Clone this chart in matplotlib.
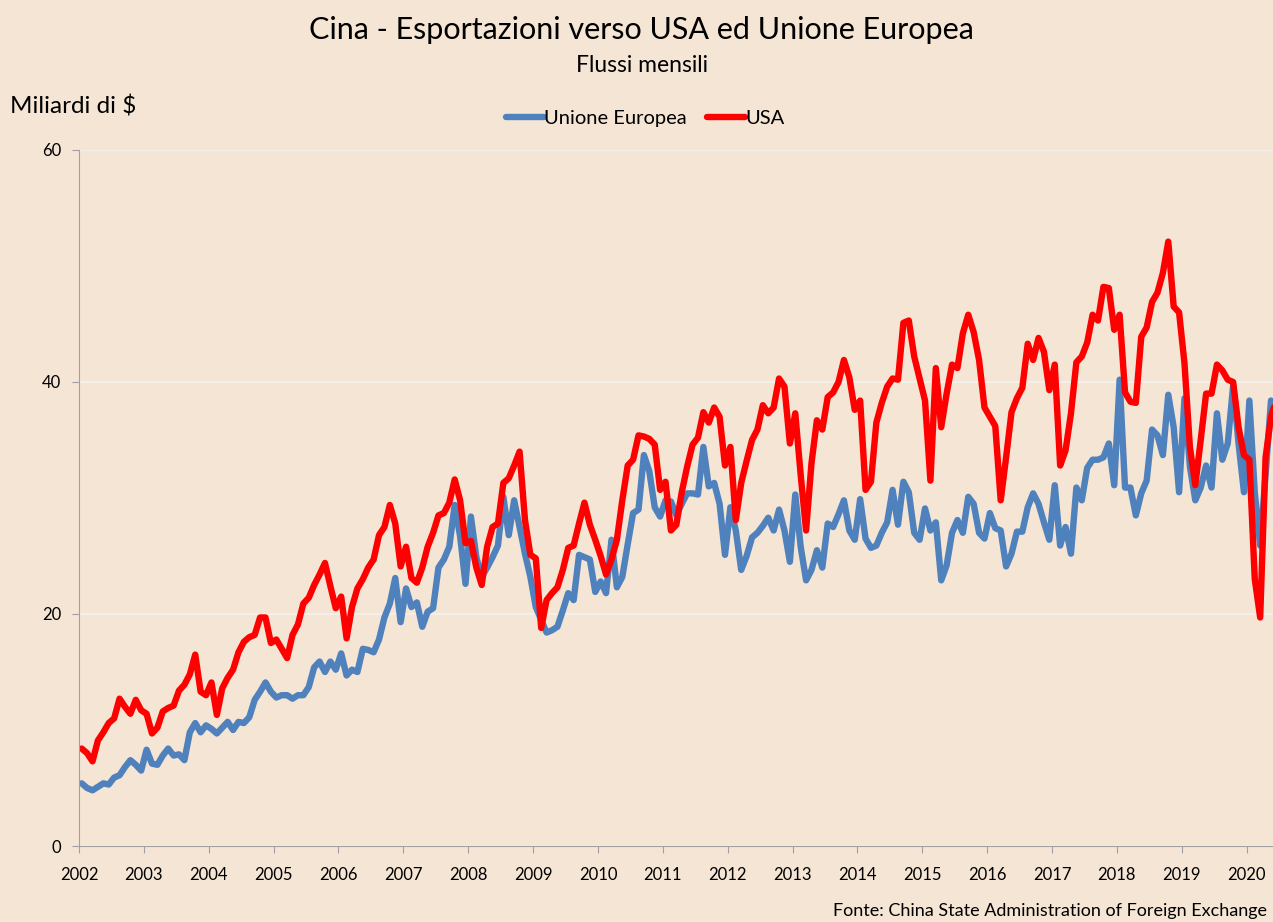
import numpy as np
import matplotlib
matplotlib.use('Agg')
import matplotlib.pyplot as plt

# monthly flows, Jan 2002 .. Jun 2020 (billions of $)
usa = [8.4, 8.0, 7.3, 9.1, 9.8, 10.6, 11.0, 12.7, 12.0, 11.4, 12.6, 11.7,
       11.4, 9.7, 10.2, 11.6, 11.9, 12.1, 13.4, 13.9, 14.8, 16.5, 13.3, 13.0,
       14.1, 11.3, 13.6, 14.5, 15.2, 16.7, 17.6, 18.0, 18.2, 19.7, 19.7, 17.5,
       17.8, 17.0, 16.2, 18.2, 19.1, 20.9, 21.4, 22.5, 23.4, 24.4, 22.4, 20.5,
       21.5, 17.9, 20.6, 22.2, 23.0, 24.0, 24.7, 26.8, 27.5, 29.4, 27.8, 24.1,
       25.8, 23.1, 22.7, 24.0, 25.8, 27.0, 28.5, 28.7, 29.6, 31.6, 29.8, 26.1,
       26.3, 24.0, 22.5, 25.8, 27.5, 27.8, 31.3, 31.7, 32.8, 34.0, 28.1, 25.1,
       24.8, 18.8, 21.2, 21.8, 22.3, 23.8, 25.7, 25.9, 27.8, 29.6, 27.7, 26.4,
       25.0, 23.4, 24.7, 26.4, 29.8, 32.8, 33.3, 35.4, 35.3, 35.1, 34.6, 30.7,
       31.4, 27.2, 27.7, 30.5, 32.7, 34.6, 35.2, 37.4, 36.5, 37.8, 37.0, 32.8,
       34.4, 28.1, 31.3, 33.2, 35.0, 35.9, 38.0, 37.3, 37.8, 40.3, 39.6, 34.7,
       37.3, 32.0, 27.2, 33.0, 36.7, 35.9, 38.7, 39.1, 40.0, 41.9, 40.4, 37.6,
       38.4, 30.7, 31.4, 36.5, 38.2, 39.6, 40.3, 40.2, 45.1, 45.3, 42.2, 40.3,
       38.4, 31.5, 41.2, 36.1, 39.0, 41.5, 41.2, 44.2, 45.8, 44.3, 41.9, 37.8,
       37.0, 36.2, 29.8, 33.5, 37.4, 38.6, 39.5, 43.3, 41.9, 43.8, 42.6, 39.3,
       41.5, 32.8, 34.1, 37.3, 41.7, 42.2, 43.4, 45.8, 45.3, 48.2, 48.1, 44.5,
       45.8, 39.1, 38.3, 38.2, 43.9, 44.7, 46.9, 47.7, 49.4, 52.1, 46.5, 46.0,
       41.6, 34.4, 31.1, 35.0, 39.0, 39.0, 41.5, 41.0, 40.2, 40.0, 36.1, 33.7,
       33.3, 23.0, 19.7, 33.5, 37.0, 38.5]

ue = [5.4, 5.0, 4.8, 5.1, 5.4, 5.3, 5.9, 6.1, 6.8, 7.4, 7.0, 6.5,
      8.3, 7.1, 7.0, 7.8, 8.4, 7.8, 7.9, 7.4, 9.8, 10.6, 9.8, 10.4,
      10.1, 9.7, 10.2, 10.7, 10.0, 10.7, 10.6, 11.1, 12.6, 13.3, 14.1, 13.3,
      12.8, 13.0, 13.0, 12.7, 13.0, 13.0, 13.7, 15.4, 15.9, 15.0, 15.9, 15.2,
      16.6, 14.7, 15.2, 15.0, 17.0, 16.9, 16.7, 17.8, 19.7, 20.9, 23.1, 19.3,
      22.2, 20.6, 21.0, 18.9, 20.2, 20.5, 24.0, 24.7, 25.8, 29.4, 26.7, 22.6,
      28.4, 24.9, 23.2, 24.0, 24.9, 25.9, 30.1, 26.8, 29.8, 27.5, 25.2, 23.2,
      20.6, 19.5, 18.4, 18.6, 18.9, 20.3, 21.8, 21.2, 25.1, 24.9, 24.7, 21.9,
      22.8, 21.8, 26.4, 22.3, 23.2, 26.0, 28.7, 29.0, 33.7, 32.3, 29.2, 28.4,
      29.8, 29.7, 28.5, 29.5, 30.4, 30.4, 30.3, 34.4, 31.0, 31.3, 29.5, 25.1,
      29.2, 27.2, 23.8, 25.0, 26.6, 27.0, 27.6, 28.3, 27.2, 29.0, 27.2, 24.5,
      30.3, 25.8, 22.9, 23.8, 25.5, 24.0, 27.8, 27.5, 28.6, 29.8, 27.2, 26.4,
      29.9, 26.5, 25.7, 25.9, 27.0, 27.9, 30.7, 27.7, 31.4, 30.5, 27.0, 26.4,
      29.1, 27.2, 27.9, 22.9, 24.2, 27.0, 28.1, 27.0, 30.1, 29.5, 27.0, 26.5,
      28.7, 27.4, 27.2, 24.1, 25.2, 27.1, 27.1, 29.2, 30.4, 29.5, 27.9, 26.4,
      31.1, 25.9, 27.5, 25.2, 30.9, 29.8, 32.6, 33.3, 33.3, 33.5, 34.7, 31.1,
      40.2, 30.9, 30.9, 28.5, 30.4, 31.5, 35.9, 35.4, 33.7, 38.9, 36.1, 30.5,
      38.6, 32.7, 29.8, 30.9, 32.8, 30.9, 37.3, 33.3, 34.7, 39.7, 34.7, 30.5,
      38.4, 30.5, 25.9, 32.0, 38.4, 38.0]

years = list(range(2002, 2021))
yticks = [0, 20, 40, 60]

bg = '#F5E5D5'
plt.rcParams['font.family'] = ['Lato', 'DejaVu Sans']

months = 2002 + (np.arange(len(usa)) + 0.5) / 12.0

fig = plt.figure(figsize=(12.73, 9.22), dpi=100, facecolor=bg)
ax = fig.add_axes([79/1273, 76/922, 1 - 79/1273, 696/922])
ax.set_facecolor(bg)

ax.plot(months, ue, color='#4F81BD', lw=4.6, solid_joinstyle='round',
        solid_capstyle='round', label='Unione Europea')
ax.plot(months, usa, color='#FF0000', lw=4.6, solid_joinstyle='round',
        solid_capstyle='round', label='USA')

ax.set_xlim(2002, 2002 + (1273 - 79) / 64.87)
ax.set_ylim(0, 60)
ax.set_xticks(years)
ax.set_xticklabels([str(y) for y in years], fontsize=12)
ax.set_yticks(yticks)
ax.set_yticklabels([str(v) for v in yticks], fontsize=12)
ax.tick_params(axis='x', direction='out', length=5, color='#A0A0A0', pad=10)
ax.tick_params(axis='y', direction='out', length=5, color='#A0A0A0', pad=8)
ax.grid(axis='y', color='#F6F2EE', lw=1.2)
ax.set_axisbelow(True)
for s in ['top', 'right']:
    ax.spines[s].set_visible(False)
for s in ['left', 'bottom']:
    ax.spines[s].set_color('#A0A0A0')

fig.text(0.504, 0.967, 'Cina - Esportazioni verso USA ed Unione Europea',
         ha='center', va='center', fontsize=22)
fig.text(0.504, 0.929, 'Flussi mensili', ha='center', va='center', fontsize=16.5)
fig.text(0.008, 0.884, 'Miliardi di $', ha='left', va='center', fontsize=17.5)
fig.text(0.995, 0.012, 'Fonte: China State Administration of Foreign Exchange',
         ha='right', va='center', fontsize=13)

fig.legend(loc='center', bbox_to_anchor=(0.507, 0.872), ncol=2, frameon=False,
           fontsize=14.5, handlelength=1.9, handletextpad=0.0, columnspacing=1.0)

fig.savefig('out.png', dpi=100, facecolor=bg)
